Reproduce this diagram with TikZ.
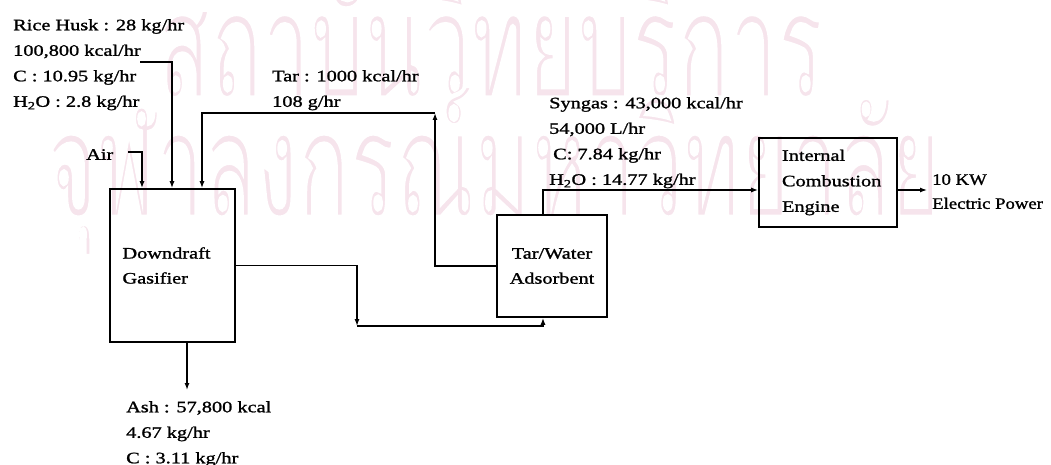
\documentclass[tikz,border=0pt]{standalone}
\usepackage{fontspec}
\setmainfont{Liberation Serif}[FakeStretch=1.27,FakeBold=1.3]
\newfontfamily\narrowfont{Liberation Serif}[FakeStretch=1.17,FakeBold=1.3]
\newfontfamily\thaifont[Script=Thai]{Loma}
\usetikzlibrary{arrows.meta,calc}
\definecolor{wmpink}{RGB}{246,228,236}
\newcommand\wmthin{\special{pdf:literal direct 2 Tr 1 1 1 RG 5 w}}
\begin{document}
\begin{tikzpicture}[x=1pt,y=-1pt,
  box/.style={draw,line width=1.6pt,inner sep=0pt},
  flow/.style={line width=1.3pt,-{Latex[length=7pt,width=5pt]}},
  lbl/.style={inner sep=0pt,align=left,anchor=north west,font=\fontsize{16}{25.5}\selectfont},
  wm/.style={inner sep=0pt,anchor=west,text=wmpink,font=\thaifont\fontsize{150}{150}\selectfont}]
\path[use as bounding box] (0,0) rectangle (1051,465);
% watermark
\node[wm] (wm1) at (158,38) {\scalebox{0.57}[1]{\wmthin สถาบันวิทยบริการ}};
\node[wm] (wm2) at (47,171) {\scalebox{0.57}[1]{\wmthin จุฬาลงกรณ์มหาวิทยาลัย}};
% boxes
\node[box,minimum width=125pt,minimum height=153pt,text width=100pt,align=left,
  font=\fontsize{16}{25}\selectfont] (gas) at (172.5,265.5) {Downdraft\\Gasifier};
\node[box,minimum width=110pt,minimum height=102pt,align=center,
  font=\fontsize{16}{25}\selectfont] (tw) at (552,266) {Tar/Water\\Adsorbent};
\node[box,minimum width=138pt,minimum height=89pt,text width=92pt,align=left,
  font=\fontsize{16}{25.5}\selectfont] (eng) at (828,182.5) {Internal\\Combustion\\Engine};
% labels
\node[lbl] (rhl) at (13,19) {Rice Husk : 28 kg/hr\\100,800 kcal/hr\\C : 10.95 kg/hr\\H\textsubscript{2}O : 2.8 kg/hr};
\node[lbl] (airl) at (86,149) {Air};
\node[lbl] (tarl) at (272,70) {Tar : 1000 kcal/hr\\108 g/hr};
\node[lbl] (synl) at (549,97) {Syngas : 43,000 kcal/hr\\54,000 L/hr\\\hspace{4pt}C: 7.84 kg/hr\\H\textsubscript{2}O : 14.77 kg/hr};
\node[lbl] (ashl) at (126,401) {Ash : 57,800 kcal\\4.67 kg/hr\\C : 3.11 kg/hr};
\node[lbl,font=\narrowfont\fontsize{16}{24}\selectfont] (outl) at (932,174) {10 KW\\Electric Power};
% coordinates
\coordinate (rh) at (140,62);
\coordinate (rhc) at (172,62);
\coordinate (air) at (128,152);
\coordinate (airc) at (142,152);
\coordinate (tarT) at (435,113);
\coordinate (tarL) at (202,113);
\coordinate (gc) at (357,326);
\coordinate (twx) at (543,190);
\coordinate (out) at (927,190);
\coordinate (ash) at (187,390);
% connectors
\draw[flow] (rh) -- (rhc) -- (rhc |- gas.north);
\draw[flow] (air) -- (airc) -- (airc |- gas.north);
\draw[flow] (tw.west) -| (tarT);
\draw[flow] (tarT) -- (tarL) -- (tarL |- gas.north);
\draw[flow] (gas.east) -| (gc);
\draw[flow] (gc) -- (gc -| twx) -- (twx |- tw.south);
\draw[flow] (twx |- tw.north) -- (twx) -- (twx -| eng.west);
\draw[flow] (eng.east |- out) -- (out);
\draw[flow] (ash |- gas.south) -- (ash);
\end{tikzpicture}
\end{document}
